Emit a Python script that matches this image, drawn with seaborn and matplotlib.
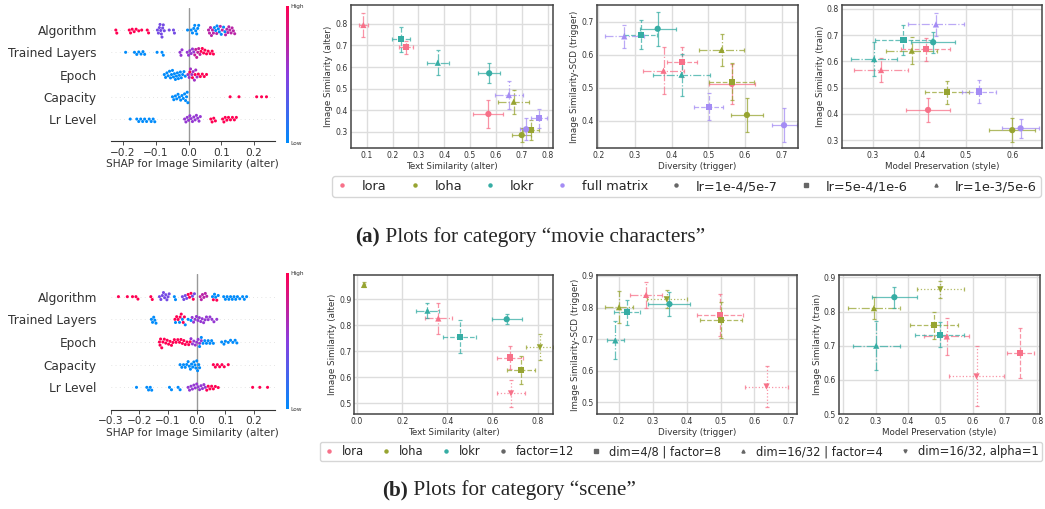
import warnings
import numpy as np
import pandas as pd
import matplotlib
matplotlib.use('Agg')
import matplotlib.pyplot as plt
from matplotlib.colors import LinearSegmentedColormap
from matplotlib.cm import ScalarMappable
from matplotlib.lines import Line2D
from matplotlib.ticker import MultipleLocator
import seaborn as sns

warnings.filterwarnings('ignore')

sns.set_theme(style='whitegrid')
plt.rcParams['font.family'] = ['DejaVu Sans']

features = ['Algorithm', 'Trained Layers', 'Epoch', 'Capacity', 'Lr Level']

# SHAP values per feature: (feature value 0=low..1=high, shap values)
shap_movie = {
    'Algorithm': [
        (1.0, [-0.222, -0.219, -0.181, -0.177, -0.172, -0.166, -0.16, -0.152, -0.143, -0.126, -0.122]),
        (0.42, [-0.095, -0.092, -0.089, -0.087, -0.085, -0.083, -0.081, -0.079, -0.077, -0.074,
                -0.059, -0.046, -0.043]),
        (0.0, [-0.003, 0.008, 0.012, 0.016, 0.019, 0.022, 0.025, 0.028, 0.031, 0.079,
               0.083, 0.087, 0.091, 0.094, 0.1, 0.107, 0.111]),
        (0.7, [0.061, 0.064, 0.067, 0.07, 0.073, 0.076, 0.086, 0.097, 0.103, 0.113, 0.117, 0.12,
               0.123, 0.126, 0.13, 0.133, 0.137, 0.141]),
    ],
    'Trained Layers': [
        (0.0, [-0.192, -0.165, -0.158, -0.152, -0.145, -0.139, -0.134, -0.096, -0.081, -0.077]),
        (0.55, [-0.026, -0.023, -0.02, -0.004, 0.0, 0.004, 0.008, 0.012, 0.016]),
        (0.75, [0.019, 0.022, 0.025, 0.028, 0.031, 0.035]),
        (1.0, [0.038, 0.042, 0.046, 0.05, 0.055, 0.06, 0.066, 0.072, 0.076]),
    ],
    'Epoch': [
        (0.0, [-0.074, -0.07, -0.066, -0.062, -0.058, -0.055, -0.052, -0.049, -0.046, -0.043, -0.04,
               -0.037, -0.034, -0.031, -0.028, -0.025, -0.022, -0.018, -0.014, -0.01]),
        (0.6, [-0.002, 0.002, 0.006, 0.01, 0.014, 0.018, 0.022, 0.026]),
        (1.0, [0.004, 0.012, 0.02, 0.03, 0.036, 0.042, 0.048, 0.055]),
    ],
    'Capacity': [
        (0.0, [-0.049, -0.045, -0.04, -0.036, -0.032, -0.028, -0.024, -0.02, -0.016, -0.012,
               -0.009, -0.006, -0.004, -0.002]),
        (1.0, [0.127, 0.154, 0.208, 0.223, 0.238]),
    ],
    'Lr Level': [
        (0.0, [-0.178, -0.158, -0.152, -0.146, -0.14, -0.134, -0.128, -0.12, -0.114, -0.108, -0.103]),
        (0.55, [-0.012, -0.008, -0.004, 0.0, 0.004, 0.008, 0.012, 0.016, 0.02, 0.024,
                0.028, 0.032, 0.036]),
        (1.0, [0.068, 0.072, 0.077, 0.082, 0.104, 0.108, 0.112, 0.117, 0.122, 0.128, 0.134, 0.14, 0.146]),
    ],
}

shap_scene = {
    'Algorithm': [
        (1.0, [-0.273, -0.242, -0.224, -0.212, -0.205, -0.16, -0.155, -0.03, -0.025, -0.02, -0.012,
               0.058, 0.07]),
        (0.42, [-0.13, -0.125, -0.12, -0.116, -0.112, -0.108, -0.104, -0.1, -0.096,
                -0.05, -0.045, -0.04, -0.035, -0.015, -0.008]),
        (0.0, [-0.078, -0.074, 0.055, 0.062, 0.066, 0.075, 0.094, 0.1, 0.106, 0.112, 0.118, 0.124,
               0.13, 0.136, 0.142, 0.15, 0.16, 0.166, 0.174]),
        (0.7, [0.012, 0.016, 0.02, 0.025, 0.03, 0.035]),
    ],
    'Trained Layers': [
        (0.0, [-0.158, -0.154, -0.15, -0.146, -0.142, -0.074, -0.06, -0.05, -0.04, -0.03, -0.02]),
        (1.0, [-0.076, -0.07, -0.065, -0.058, -0.054, -0.047, -0.043]),
        (0.55, [-0.016, -0.011, -0.006, -0.001, 0.004, 0.009, 0.014, 0.019, 0.024, 0.029,
                0.034, 0.04, 0.046, 0.053, 0.06, 0.07]),
    ],
    'Epoch': [
        (1.0, [-0.13, -0.128, -0.126, -0.122, -0.118, -0.113, -0.108, -0.103, -0.098, -0.093, -0.088,
               -0.083, -0.078, -0.072, -0.066, -0.06, -0.055, -0.05, -0.045, -0.04, -0.034,
               -0.028, -0.023]),
        (0.55, [-0.02, -0.015, -0.01, -0.005, 0.0, 0.005, 0.01, 0.016]),
        (0.0, [0.01, 0.016, 0.022, 0.028, 0.034, 0.04, 0.046, 0.052, 0.058, 0.087, 0.095, 0.1, 0.11,
               0.118, 0.126, 0.134, 0.14]),
    ],
    'Capacity': [
        (0.0, [-0.058, -0.052, -0.046, -0.04, -0.035, -0.03, -0.026, -0.022, -0.018, -0.014, -0.01,
               -0.006, -0.003, 0.0, 0.003, 0.007, 0.01]),
        (1.0, [0.058, 0.065, 0.072, 0.08, 0.088, 0.096, 0.11]),
    ],
    'Lr Level': [
        (0.0, [-0.21, -0.174, -0.168, -0.162, -0.157, -0.095, -0.088, -0.065, -0.058]),
        (0.55, [-0.03, -0.025, -0.02, -0.015, -0.01, -0.005, 0.0, 0.005, 0.01, 0.015, 0.02,
                0.025, 0.03]),
        (1.0, [0.035, 0.04, 0.046, 0.052, 0.058, 0.065, 0.075, 0.195, 0.22, 0.247]),
    ],
}

# scatter data, movie characters
movie_algos = ['lora'] * 3 + ['loha'] * 3 + ['lokr'] * 3 + ['full matrix'] * 3
movie_lr = ['lr=1e-4/5e-7', 'lr=5e-4/1e-6', 'lr=1e-3/5e-6'] * 4

m_text_alter = [0.571, 0.252, 0.087, 0.700, 0.736, 0.669, 0.574, 0.233, 0.375, 0.717, 0.767, 0.650]
m_text_alter_err = [0.058, 0.028, 0.017, 0.037, 0.032, 0.061, 0.043, 0.035, 0.043, 0.025, 0.032, 0.055]
m_img_alter = [0.382, 0.692, 0.795, 0.284, 0.308, 0.439, 0.571, 0.730, 0.620, 0.311, 0.362, 0.470]
m_img_alter_err = [0.065, 0.031, 0.056, 0.033, 0.045, 0.056, 0.046, 0.058, 0.059, 0.050, 0.044, 0.066]

m_diversity = [0.564, 0.428, 0.378, 0.605, 0.564, 0.536, 0.362, 0.316, 0.427, 0.706, 0.501, 0.271]
m_diversity_err = [0.062, 0.041, 0.057, 0.043, 0.061, 0.061, 0.049, 0.045, 0.078, 0.034, 0.039, 0.053]
m_scd = [0.511, 0.578, 0.551, 0.417, 0.518, 0.614, 0.678, 0.660, 0.539, 0.386, 0.442, 0.655]
m_scd_err = [0.060, 0.045, 0.071, 0.052, 0.056, 0.048, 0.051, 0.044, 0.064, 0.051, 0.041, 0.034]

m_preserve = [0.419, 0.414, 0.318, 0.600, 0.460, 0.384, 0.430, 0.366, 0.303, 0.618, 0.528, 0.436]
m_preserve_err = [0.047, 0.053, 0.058, 0.049, 0.047, 0.055, 0.048, 0.061, 0.049, 0.039, 0.037, 0.060]
m_img_train = [0.415, 0.646, 0.567, 0.338, 0.482, 0.641, 0.673, 0.682, 0.609, 0.345, 0.485, 0.741]
m_img_train_err = [0.047, 0.043, 0.045, 0.046, 0.045, 0.052, 0.041, 0.056, 0.064, 0.036, 0.043, 0.045]

# scatter data, scene
scene_algos = ['lora'] * 3 + ['loha'] * 3 + ['lokr'] * 3
scene_cfg = ['dim=4/8 | factor=8', 'dim=16/32 | factor=4', 'dim=16/32, alpha=1'] * 2 + \
            ['factor=12', 'dim=4/8 | factor=8', 'dim=16/32 | factor=4']

s_text_alter = [0.679, 0.360, 0.682, 0.727, 0.031, 0.810, 0.663, 0.455, 0.312]
s_text_alter_err = [0.058, 0.061, 0.061, 0.062, 0.006, 0.060, 0.066, 0.074, 0.049]
s_img_alter = [0.676, 0.826, 0.538, 0.628, 0.955, 0.715, 0.823, 0.756, 0.856]
s_img_alter_err = [0.046, 0.058, 0.053, 0.053, 0.010, 0.050, 0.020, 0.064, 0.030]

s_diversity = [0.498, 0.280, 0.636, 0.502, 0.200, 0.341, 0.349, 0.223, 0.189]
s_diversity_err = [0.068, 0.048, 0.064, 0.062, 0.042, 0.059, 0.062, 0.039, 0.026]
s_scd = [0.777, 0.840, 0.550, 0.761, 0.801, 0.826, 0.811, 0.785, 0.696]
s_scd_err = [0.066, 0.042, 0.064, 0.056, 0.050, 0.029, 0.038, 0.040, 0.060]

s_preserve = [0.747, 0.520, 0.612, 0.480, 0.295, 0.500, 0.358, 0.498, 0.302]
s_preserve_err = [0.041, 0.070, 0.085, 0.075, 0.081, 0.072, 0.069, 0.076, 0.072]
s_img_train = [0.678, 0.727, 0.610, 0.760, 0.810, 0.865, 0.842, 0.732, 0.700]
s_img_train_err = [0.073, 0.054, 0.088, 0.040, 0.033, 0.024, 0.031, 0.037, 0.072]

# ---------------------------------------------------------------------------
W, H = 1045, 509
fig = plt.figure(figsize=(W / 100, H / 100), dpi=100)


def px_axes(x0, y0, x1, y1):
    return fig.add_axes([x0 / W, 1 - y1 / H, (x1 - x0) / W, (y1 - y0) / H])


shap_cmap = LinearSegmentedColormap.from_list('shap_rb', ['#008bfb', '#8a3ee0', '#ff0052'])
husl = sns.color_palette('husl', 4)
algo_pal = {'lora': husl[0], 'loha': husl[1], 'lokr': husl[2], 'full matrix': husl[3]}
marker_map = {'lr=1e-4/5e-7': 'o', 'lr=5e-4/1e-6': 's', 'lr=1e-3/5e-6': '^',
              'factor=12': 'o', 'dim=4/8 | factor=8': 's', 'dim=16/32 | factor=4': '^',
              'dim=16/32, alpha=1': 'v'}
line_map = {'o': '-', 's': '--', '^': '-.', 'v': ':'}


def shap_panel(groups, box, cbox, xlim, xstep):
    rows = []
    for feat in features:
        for fv, vals in groups[feat]:
            for v in vals:
                rows.append((feat, v, fv))
    df = pd.DataFrame(rows, columns=['feature', 'shap', 'fval'])
    pal = {fv: shap_cmap(fv) for fv in df['fval'].unique()}
    ax = px_axes(*box)
    ax.set_facecolor('white')
    ax.grid(False)
    for i in range(len(features)):
        ax.axhline(i, color='#cccccc', lw=0.5, dashes=(1, 5), zorder=-1)
    ax.axvline(0, color='#999999', lw=1, zorder=-1)
    sns.swarmplot(data=df, x='shap', y='feature', hue='fval', order=features, palette=pal,
                  orient='h', size=2.2, linewidth=0, legend=False, ax=ax, zorder=3)
    ax.set_ylim(len(features), -1)
    ax.set_xlim(*xlim)
    ax.xaxis.set_major_locator(MultipleLocator(xstep))
    for side in ['top', 'right', 'left']:
        ax.spines[side].set_visible(False)
    ax.spines['bottom'].set_color('#333333')
    ax.spines['bottom'].set_linewidth(0.8)
    ax.tick_params(axis='y', length=0, labelsize=8.7, labelcolor='#333333', pad=10)
    ax.tick_params(axis='x', length=3, width=0.6, color='#333333', labelsize=7.6,
                   labelcolor='#333333', pad=1.5, bottom=True)
    ax.set_ylabel('')
    ax.set_xlabel('SHAP for Image Similarity (alter)', fontsize=7.6, color='#333333', labelpad=1)
    cax = px_axes(*cbox)
    cb = fig.colorbar(ScalarMappable(cmap=shap_cmap), cax=cax, ticks=[0, 1])
    cb.set_ticklabels(['Low', 'High'])
    cb.outline.set_visible(False)
    cax.tick_params(length=0, labelsize=4.2, pad=1, labelcolor='#333333')


def scatter_panel(box, df, xlab, ylab, xlim, ylim, xstep, ystep):
    ax = px_axes(*box)
    for _, r in df.iterrows():
        mk = marker_map[r['setting']]
        eb = ax.errorbar(r['x'], r['y'], xerr=r['xerr'], yerr=r['yerr'], fmt='none',
                         ecolor=algo_pal[r['algo']], elinewidth=0.9, capsize=1.5,
                         capthick=0.9, alpha=0.75, zorder=2)
        for lc in eb[2]:
            lc.set_linestyle(line_map[mk])
    sns.scatterplot(data=df, x='x', y='y', hue='algo', style='setting', palette=algo_pal,
                    markers=marker_map, s=20, linewidth=0, legend=False, ax=ax, zorder=3)
    ax.set_xlim(*xlim)
    ax.set_ylim(*ylim)
    ax.xaxis.set_major_locator(MultipleLocator(xstep))
    ax.yaxis.set_major_locator(MultipleLocator(ystep))
    ax.grid(True, color='#dddddd', lw=1)
    for sp in ax.spines.values():
        sp.set_color('#444444')
        sp.set_linewidth(1.1)
    ax.tick_params(length=0, labelsize=5.6, labelcolor='#333333', pad=2)
    ax.set_xlabel(xlab, fontsize=6.3, color='#333333', labelpad=1.5)
    ax.set_ylabel(ylab, fontsize=6.3, color='#333333', labelpad=1.5)
    return ax


def make_df(algos, settings, x, xerr, y, yerr):
    return pd.DataFrame({'algo': algos, 'setting': settings, 'x': x, 'xerr': xerr,
                         'y': y, 'yerr': yerr})


# ---- (a) movie characters ----
shap_panel(shap_movie, (110.7, 7.8, 275, 141.3), (286, 6, 289, 143), (-0.2376, 0.264), 0.1)

scatter_panel((350.7, 5, 553, 148),
              make_df(movie_algos, movie_lr, m_text_alter, m_text_alter_err, m_img_alter, m_img_alter_err),
              'Text Similarity (alter)', 'Image Similarity (alter)', (0.038, 0.821), (0.224, 0.888), 0.1, 0.1)
scatter_panel((596.7, 5, 798, 148),
              make_df(movie_algos, movie_lr, m_diversity, m_diversity_err, m_scd, m_scd_err),
              'Diversity (trigger)', 'Image Similarity-SCD (trigger)', (0.196, 0.744), (0.317, 0.75), 0.1, 0.1)
scatter_panel((842, 5, 1042, 148),
              make_df(movie_algos, movie_lr, m_preserve, m_preserve_err, m_img_train, m_img_train_err),
              'Model Preservation (style)', 'Image Similarity (train)', (0.234, 0.664), (0.27, 0.815), 0.1, 0.1)

# ---- (b) scene ----
shap_panel(shap_scene, (110.7, 274, 275, 410), (286, 273, 289, 409), (-0.3, 0.273), 0.1)

scatter_panel((354.3, 275, 553, 414),
              make_df(scene_algos, scene_cfg, s_text_alter, s_text_alter_err, s_img_alter, s_img_alter_err),
              'Text Similarity (alter)', 'Image Similarity (alter)', (-0.012, 0.868), (0.459, 0.993), 0.2, 0.1)
scatter_panel((596.7, 275, 797, 414),
              make_df(scene_algos, scene_cfg, s_diversity, s_diversity_err, s_scd, s_scd_err),
              'Diversity (trigger)', 'Image Similarity-SCD (trigger)', (0.134, 0.726), (0.463, 0.903), 0.1, 0.1)
scatter_panel((839, 275, 1040, 414),
              make_df(scene_algos, scene_cfg, s_preserve, s_preserve_err, s_img_train, s_img_train_err),
              'Model Preservation (style)', 'Image Similarity (train)', (0.187, 0.808), (0.50, 0.907), 0.1, 0.1)


# ---- legends ----
def legend_row(algos, settings, center, fs, textpad, colspace):
    handles, labels = [], []
    for a in algos:
        handles.append(Line2D([], [], marker='o', ls='', color=algo_pal[a], markersize=2.2))
        labels.append(a)
    for s in settings:
        handles.append(Line2D([], [], marker=marker_map[s], ls='', color='#666666', markersize=2.2))
        labels.append(s)
    fig.legend(handles, labels, loc='center', bbox_to_anchor=center, ncol=len(labels),
               fontsize=fs, frameon=True, edgecolor='#cccccc', handletextpad=textpad,
               columnspacing=colspace, borderpad=0.3, handlelength=1.0, fancybox=True)


legend_row(['lora', 'loha', 'lokr', 'full matrix'], ['lr=1e-4/5e-7', 'lr=5e-4/1e-6', 'lr=1e-3/5e-6'],
           (686.5 / W, 1 - 186.5 / H), 9.3, 1.0, 1.7)
legend_row(['lora', 'loha', 'lokr'], ['factor=12', 'dim=4/8 | factor=8', 'dim=16/32 | factor=4',
                                      'dim=16/32, alpha=1'], (681 / W, 1 - 451.5 / H), 8.3, 0.6, 1.45)


# ---- captions ----
def caption(tag, rest, x, y):
    t = fig.text(x / W, 1 - y / H, tag, fontsize=15.3, fontweight='bold', family='Liberation Serif',
                 va='center', ha='left')
    plt.annotate(rest, xy=(1, 0), xycoords=t, va='bottom', ha='left', fontsize=15.3,
                 family='Liberation Serif', annotation_clip=False)


caption('(a)', ' Plots for category \u201cmovie characters\u201d', 355, 237)
caption('(b)', ' Plots for category \u201cscene\u201d', 382, 490)

fig.savefig('out.png', dpi=100)
